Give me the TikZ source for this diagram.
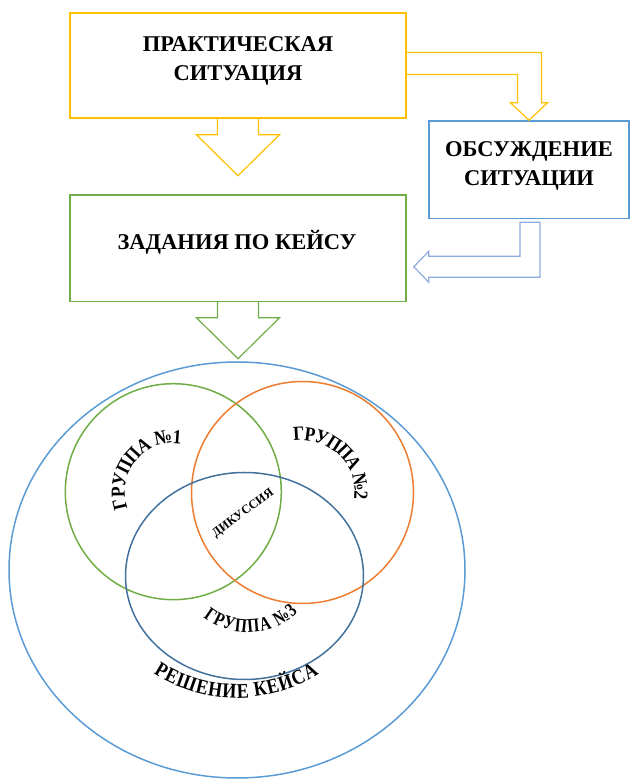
\documentclass[tikz,border=0pt]{standalone}
\usepackage{fontspec}
\setmainfont{Liberation Serif}
\newfontfamily\arcfont[FakeStretch=0.88]{Liberation Serif}
\newfontfamily\arcfontetroit[FakeStretch=0.8]{Liberation Serif}
\newfontfamily\arcfontlarge[FakeStretch=0.86]{Liberation Serif}
\usetikzlibrary{calc,decorations.text}
\definecolor{jaune}{RGB}{255,192,0}
\definecolor{vert}{RGB}{112,173,71}
\definecolor{bleu}{RGB}{91,155,213}
\definecolor{bleufleche}{RGB}{143,170,220}
\definecolor{orangeg}{RGB}{237,125,49}
\definecolor{bleufonce}{RGB}{65,113,156}
\newcommand\etiquette{\arcfont\bfseries\fontsize{20}{20}\selectfont}
\newcommand\etiquettetrois{\arcfontetroit\bfseries\fontsize{19.5}{19.5}\selectfont}
\newcommand\etiquettecas{\arcfontlarge\bfseries\fontsize{21}{21}\selectfont}
\begin{document}
\begin{tikzpicture}[x=1bp, y=1bp,
	boite/.style={draw, line width=1.5bp, inner sep=0pt},
	titre/.style={font=\bfseries\fontsize{22.6}{29}\selectfont, align=center},
	fleche/.style={line width=1.2bp, line join=miter},
	cercle/.style={line width=1.5bp},
	arche/.style={decorate, decoration={text along path, text align=fit to path, raise=-6.5bp, text={#1}}}]
	%\draw[help lines] (0,0) grid (630,780);
	\useasboundingbox (0,0) rectangle (630,780);
	\node[boite, draw=jaune, minimum width=336bp, minimum height=105bp] (situation) at (238,714.5) {};
	\node[boite, draw=bleu, minimum width=200bp, minimum height=97.5bp] (discussion) at (529,610.25) {};
	\node[boite, draw=vert, minimum width=336bp, minimum height=106.5bp] (taches) at (238,531.75) {};
	\path
		(238,718.6) node[titre] (situationtexte) {ПРАКТИЧЕСКАЯ\\СИТУАЦИЯ}
		(529,613.6) node[titre] (discussiontexte) {ОБСУЖДЕНИЕ\\СИТУАЦИИ}
		(237,530) node[titre, anchor=base] (tachestexte) {ЗАДАНИЯ ПО КЕЙСУ}
	;
	\draw[fleche, jaune] ($(situation.south)+(-20.5,0)$) -- ++(0,-16) -- ++(-21,0) -- ++(41.5,-41) -- ++(41.5,41) -- ++(-21,0) -- ++(0,16);
	\draw[fleche, vert] ($(taches.south)+(-20.5,0)$) -- ++(0,-15.5) -- ++(-21,0) -- ++(41.5,-41) -- ++(41.5,41) -- ++(-21,0) -- ++(0,15.5);
	\draw[fleche, jaune] ($(situation.east)+(0,13)$) -| ($(discussion.north)+(12.5,17.5)$) -- ++(6,0) -- (discussion.north) -- ++(-18.5,17.5) -- ++(7,0) |- ($(situation.east)+(0,-9)$);
	\draw[fleche, bleufleche] ($(discussion.south)+(11,-3)$) |- ($(taches.east)+(22,-29)$) -- ++(0,-5) -- ($(taches.east)+(7,-18.5)$) -- ++(15,15.5) -- ++(0,-5) -| ($(discussion.south)+(-9,-3)$) -- cycle;
	\coordinate (cas) at (237,210);
	\coordinate (g1) at (173.3,288.3);
	\coordinate (g2) at (302.5,287.5);
	\coordinate (g3) at (244.5,204);
	\coordinate (arc3) at (247.7,219.6);
	\coordinate (arccas) at (236.7,236.6);
	\draw[cercle, bleu] (cas) ellipse [x radius=228, y radius=208];
	\draw[cercle, vert] (g1) circle [radius=108];
	\draw[cercle, orangeg] (g2) circle [radius=111];
	\draw[cercle, bleufonce] (g3) ellipse [x radius=119, y radius=103.5];
	\path[arche={|\etiquette|ГРУППА №1}] ($(g1)+(199:55)$) arc [start angle=199, end angle=81.3, radius=55];
	\path[arche={|\etiquette|ГРУППА №2}] ($(g2)+(99.1:58.5)$) arc [start angle=99.1, end angle=-7.4, radius=58.5];
	\path[arche={|\etiquettetrois|ГРУППА №3}] ($(arc3)+(231.4:65.5)$) arc [start angle=231.4, end angle=314.6, radius=65.5];
	\path[arche={|\etiquettecas|РЕШЕНИЕ КЕЙСА}] ($(arccas)+(237.3:148)$) arc [start angle=237.3, end angle=302.3, radius=148];
	\node[rotate=36.4, font=\bfseries\fontsize{12.5}{12.5}\selectfont] (centre) at (243.3,266.7) {ДИКУССИЯ};
\end{tikzpicture}
\end{document}
